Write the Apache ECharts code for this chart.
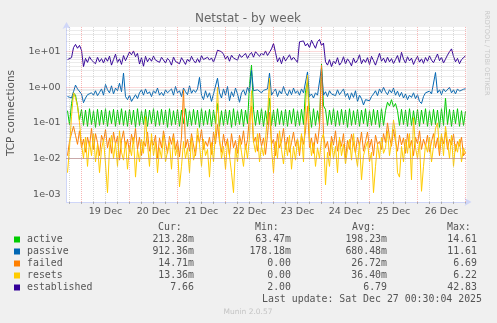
<!DOCTYPE html>
<html>
<head>
<meta charset="utf-8">
<script src="https://cdn.jsdelivr.net/npm/echarts@6/dist/echarts.min.js"></script>
<style>
html, body { margin: 0; padding: 0; background: #F0F0F0; }
#chart { width: 497px; height: 323px; }
</style>
</head>
<body>
<div id="chart"></div>
<script>
// Hourly samples; first sample is 18 Dec 17:00 (hours counted from 18 Dec 00:00)
const startHour = 17;

const active = [
  .22,.09,.35,.7,.6,.3,.12,.24,.085,.23,
  .08,.25,.09,.22,.075,.24,.085,.23,.09,.25,
  .08,.22,.095,.24,.08,.23,.09,.25,.085,.22,
  .08,.24,.09,.23,.075,.25,.085,.22,.09,.24,
  .08,.23,.095,.25,.08,.22,.085,.24,.09,.23,
  .075,.25,.085,.22,.09,.24,.08,.23,.095,.25,
  .08,.22,.085,.24,.09,.23,.075,.25,.085,.22,
  .09,.24,.08,.23,.095,.35,.08,.22,.085,.24,
  .09,.23,.075,.25,.085,.22,.09,.24,.08,.23,
  .095,1.2,4.2,.24,.085,.23,.09,.25,.08,.22,
  .09,.5,.085,.23,.08,.25,.09,.22,.085,.24,
  .08,.23,.095,.25,.08,.22,.085,.24,.09,.8,
  1.4,.23,.075,.25,.085,.22,.09,4.5,.3,.24,
  .085,.23,.09,.25,.08,.22,.085,.24,.09,.23,
  .075,.25,.085,.22,.09,.24,.08,.23,.095,.25,
  .08,.22,.085,.24,.09,.23,.075,.25,.085,.22,
  .38,.3,.45,.28,.35,.22,.085,.24,.09,.23,
  .08,.25,.085,.22,.09,.24,.08,.23,.095,.25,
  .08,.22,.085,.24,.09,.23,.075,.25,.085,.5,
  .09,.24,.08,.23,.095,.25,.08,.22,.085,.213
];

const passive = [
  .55,.6,.5,.75,1.15,.9,1,.65,.37,.5,
  .62,.55,.7,.6,.8,.58,.72,.9,.6,1.2,
  .85,.7,1.1,.65,.95,.8,1.3,.75,2.5,.55,
  .45,.6,.4,.5,.62,.48,.7,.85,.6,.9,
  .65,.75,.55,.8,.68,.95,.6,.72,.58,.85,
  .7,.62,.9,.6,1.05,.7,.8,.55,.95,.75,
  .62,1.1,.68,.85,.72,.9,1.9,.6,.45,.8,
  .52,.7,.4,.65,.58,1.8,.7,.5,.9,.6,
  1.05,.42,.75,.55,.95,.65,.38,.7,.85,.6,
  1,.72,3,.8,.72,.85,.75,.7,.82,.78,
  .9,2.5,.6,.75,.9,.55,.8,.65,1.05,.7,
  .58,.85,.62,.95,.68,.8,.6,.9,.7,.65,
  2.7,.55,.65,.5,.7,.6,.58,3.5,.6,.75,
  .55,.8,.65,.7,.58,.85,.62,.75,.9,.55,
  .68,.45,.7,.52,.8,.4,.6,.48,.32,.45,
  .5,.42,.55,.65,.8,.58,.9,.7,1,.75,
  .62,.85,.7,.95,.6,.78,.55,.72,.5,.65,
  .45,.6,.52,.7,.48,.62,.4,.35,.55,.7,
  .62,.78,.65,.72,2.6,.7,.85,.62,.9,.75,
  .8,1,.7,.85,.65,.9,.78,.82,.88,.912
];

const failed = [
  .012,.03,.05,.08,.045,.025,.06,.02,.035,.015,
  .04,.022,.07,.018,.05,.028,.012,.045,.03,.065,
  .02,.038,.014,.055,.025,.042,.009,.032,.06,.02,
  .035,.015,.048,.026,.07,.018,.04,.012,.03,.022,
  .055,.016,.034,.024,.045,.01,.038,.02,.06,.028,
  .014,.042,.025,.05,.018,.032,.011,.04,.85,.02,
  .035,.016,.05,.024,.012,.045,.028,.065,.018,.03,
  .022,.04,.013,.055,.026,.09,.03,.015,.048,.022,
  .036,.012,.05,.02,.032,.014,.045,.025,.06,.018,
  .034,.15,.3,.028,.04,.016,.052,.022,.038,.013,
  .045,.2,.025,.035,.012,.05,.02,.03,.07,.018,
  .04,.015,.028,.055,.022,.036,.012,.045,.025,.06,
  .3,.02,.038,.014,.05,.026,.08,4.2,.045,.02,
  .03,.012,.042,.024,.06,.016,.035,.022,.05,.01,
  .032,.018,.048,.026,.014,.04,.022,.055,.016,.03,
  .055,.02,.035,.012,.045,.025,.03,.018,.05,.028,
  .1,.04,.022,.065,.03,.016,.045,.024,.038,.014,
  .05,.02,.032,.012,.04,.026,.06,.018,.035,.022,
  .045,.015,.03,.05,.02,.038,.012,.042,.026,.055,
  .018,.035,.024,.048,.016,.03,.022,.04,.012,.0147
];

const resets = [
  .004,.02,.15,.7,.5,.3,.1,.025,.01,.04,
  .006,.03,.012,.05,.008,.025,.004,.018,.035,.007,
  .0011,.02,.045,.01,.028,.006,.06,.015,.009,.03,
  .005,.022,.012,.04,.003,.018,.008,.035,.014,.15,
  .025,.006,.05,.012,.03,.004,.02,.01,.045,.008,
  .016,.028,.005,.038,.012,.022,.0016,.006,.03,.01,
  .02,.004,.04,.009,.015,.07,.025,.006,.035,.012,
  .018,.003,.028,.008,.05,1.0,.04,.01,.022,.005,
  .03,.012,.004,.0011,.02,.008,.035,.015,.006,.025,
  .01,.04,.8,.03,.015,.05,.008,.022,.012,.035,
  .15,1.8,.02,.004,.03,.01,.06,.018,.007,.028,
  .012,.045,.005,.022,.009,.035,.015,.05,.008,.3,
  2.2,.04,.012,.028,.006,.02,.01,.035,.05,.0018,
  .015,.006,.03,.01,.022,.004,.04,.012,.025,.007,
  .018,.035,.009,.05,.014,.006,.028,.0025,.012,.02,
  .03,.008,.015,.0011,.006,.025,.01,.04,.014,.02,
  .06,.012,.03,.12,.05,.004,.003,.022,.008,.035,
  .014,.05,.0025,.14,.02,.01,.03,.0012,.006,.025,
  .015,.04,.008,.022,.07,.1,.018,.05,.012,.08,
  .03,.01,.045,.006,.025,.015,.035,.008,.02,.0134
];

const established = [
  6,5.5,6.8,13,16,12.5,15,11,3.8,6.5,
  5,7.2,5.8,6.2,4.6,7,5.2,6.4,4.8,6.8,
  5.4,7.5,4.2,6,8.5,5,6.3,4.4,7.8,5.6,
  6.2,9.8,8.2,10.5,7.2,9,4.5,6.8,3.9,7.4,
  5.2,6.6,5.4,7.5,5.8,6.4,5,7,6.2,4.8,
  6.5,5.6,4.2,7.1,5.3,6,4.6,6.8,5.5,4.4,
  6.2,5.2,7.4,5.7,4.8,6.4,5,7.8,6,5.3,
  7,5.8,6.7,5.1,7.2,11,12,10,8.5,6.2,
  7.5,5.4,8,6.6,7.2,5.8,8.4,6.9,7.7,9,
  6.5,8.2,9.5,7,10,8.6,7.4,9.2,8,10.5,
  7.8,8.8,12,17,9.5,5.2,6.8,4.6,7.4,5.5,
  6.2,8.2,5.8,7,6.4,5,19,18,20,14.5,
  17,13,21,16,12.5,19,22,15,17.5,5.2,
  4.2,6,3.8,5.5,4.6,6.8,4.2,5,7.2,4.5,
  6.3,5.2,4,6.6,4.8,5.8,8.2,4.6,6.1,5,
  6.8,4.4,7.4,5.6,4.2,6.2,9,5.4,6.6,4.9,
  7,5.2,6.4,4.6,6,7.8,5,9.6,6.2,4.8,
  7.2,5.5,6.6,4.4,5.9,7.4,5.1,6.3,4.7,6.9,
  5.4,7.6,5.8,4.9,6.5,8.6,5.6,7,4.8,6.2,
  8,10,12,7.4,5.2,6.5,4.6,6,6.8,7.66
];

const seriesNames = ['active', 'passive', 'failed', 'resets', 'established'];
const seriesColors = ['#00CC00', '#0066B3', '#FF8000', '#FFCC00', '#330099'];
const curValues = ['213.28m', '912.36m', '14.71m', '13.36m', '7.66'];
const minValues = ['63.47m', '178.18m', '0.00', '0.00', '2.00'];
const avgValues = ['198.23m', '680.48m', '26.72m', '36.40m', '6.79'];
const maxValues = ['14.61', '11.61', '6.69', '6.22', '42.83'];
const dayLabels = ['19 Dec', '20 Dec', '21 Dec', '22 Dec', '23 Dec', '24 Dec', '25 Dec', '26 Dec'];
const lastUpdate = 'Last update: Sat Dec 27 00:30:04 2025';

// Axis ranges: x in hours from 18 Dec 00:00, y logarithmic
const xMin = 16.5, xMax = 216.5;
const yMin = 6e-4, yMax = 49.4;

const allSeries = [active, passive, failed, resets, established];

// Grid line positions (every 6 h, day boundaries in red; 2..9 per decade, decades in red)
const vMinor = [], vMajor = [];
for (let h = 18; h <= 216; h += 6) (h % 24 === 0 ? vMajor : vMinor).push(h);
const hMinor = [], hMajor = [];
for (let k = -4; k <= 1; k++) {
  for (let m = 1; m <= 9; m++) {
    const v = m * Math.pow(10, k);
    if (v > yMin && v < yMax) (m === 1 ? hMajor : hMinor).push(v);
  }
}
const minorStyle = { color: 'rgba(160,160,160,0.42)', width: 1, type: [1, 1] };
const majorStyle = { color: 'rgba(240,110,110,0.5)', width: 1, type: [1, 1] };
const gridLines = [].concat(
  vMinor.map(h => ({ xAxis: h, lineStyle: minorStyle })),
  hMinor.map(v => ({ yAxis: v, lineStyle: minorStyle })),
  vMajor.map(h => ({ xAxis: h, lineStyle: majorStyle })),
  hMajor.map(v => ({ yAxis: v, lineStyle: majorStyle }))
);

const noons = dayLabels.map((_, i) => 36 + 24 * i);

function expLabel(v) {
  const e = Math.round(Math.log10(v));
  if (Math.abs(Math.log10(v) - e) > 1e-6) return '';
  const s = e < 0 ? '-' : '+';
  const a = Math.abs(e);
  return '1e' + s + (a < 10 ? '0' + a : '' + a);
}

const chart = echarts.init(document.getElementById('chart'), null, { renderer: 'canvas' });

const lineSeries = allSeries.map((arr, i) => ({
  name: seriesNames[i],
  type: 'line',
  data: arr.map((v, j) => [startHour + j, v]),
  showSymbol: false,
  symbol: 'none',
  smooth: false,
  lineStyle: { color: seriesColors[i], width: 1 },
  itemStyle: { color: seriesColors[i] },
  z: 3,
  silent: true
}));

const axisFont = { fontFamily: 'DejaVu Sans', fontSize: 9.5, color: '#555' };
const monoFont = 'DejaVu Sans Mono';
const legendFontSize = 9.9;
const textColor = '#555';

// Legend table
const graphics = [];
const rowY = [239.5, 251.5, 263.5, 275.5, 287.5];
const headY = 227.7;
const colRight = [194, 291, 387, 477];
const headLeft = [158, 255, 352, 447];
const headNames = ['Cur:', 'Min:', 'Avg:', 'Max:'];
headNames.forEach((t, i) => graphics.push({
  type: 'text', x: headLeft[i], y: headY,
  style: { text: t, font: legendFontSize + 'px "' + monoFont + '"', fill: textColor, textVerticalAlign: 'middle', textAlign: 'left' }
}));
seriesNames.forEach((name, r) => {
  graphics.push({ type: 'rect', shape: { x: 14, y: rowY[r] - 3, width: 6, height: 6 }, style: { fill: seriesColors[r] } });
  graphics.push({ type: 'text', x: 27, y: rowY[r],
    style: { text: name, font: legendFontSize + 'px "' + monoFont + '"', fill: textColor, textVerticalAlign: 'middle', textAlign: 'left' } });
  [curValues, minValues, avgValues, maxValues].forEach((col, c) => {
    graphics.push({ type: 'text', x: colRight[c], y: rowY[r],
      style: { text: col[r], font: legendFontSize + 'px "' + monoFont + '"', fill: textColor, textVerticalAlign: 'middle', textAlign: 'right' } });
  });
});
graphics.push({ type: 'text', x: 482, y: 299.7,
  style: { text: lastUpdate, font: legendFontSize + 'px "' + monoFont + '"', fill: textColor, textVerticalAlign: 'middle', textAlign: 'right' } });
graphics.push({ type: 'text', x: 248, y: 312.3,
  style: { text: 'Munin 2.0.57', font: '7.5px "DejaVu Sans"', fill: '#c4c4c4', textVerticalAlign: 'middle', textAlign: 'center' } });
graphics.push({ type: 'text', x: 11, y: 113, rotation: Math.PI / 2,
  style: { text: 'TCP connections', font: '10.5px "DejaVu Sans"', fill: textColor, textVerticalAlign: 'middle', textAlign: 'center' } });
graphics.push({ type: 'text', x: 487, y: 53, rotation: -Math.PI / 2,
  style: { text: 'RRDTOOL / TOBI OETIKER', font: '6.6px "DejaVu Sans"', fill: '#c8c8c8', textVerticalAlign: 'middle', textAlign: 'center' } });
graphics.push({ type: 'text', x: 248, y: 19,
  style: { text: 'Netstat - by week', font: '12px "DejaVu Sans"', fill: '#666', textVerticalAlign: 'middle', textAlign: 'center' } });

const option = {
  backgroundColor: '#F0F0F0',
  animation: false,
  grid: {
    left: 66.5, top: 27, width: 400, height: 175,
    show: true, backgroundColor: '#FFFFFF', borderWidth: 0,
    outerBoundsMode: 'none', containLabel: false
  },
  xAxis: {
    type: 'value', min: xMin, max: xMax,
    axisLine: { show: true, onZero: false, lineStyle: { color: '#CFD6F8', width: 1 },
      symbol: ['none', 'arrow'], symbolSize: [6, 7], symbolOffset: [0, 5] },
    axisTick: { show: true, customValues: vMinor.concat(vMajor), length: 2, inside: false,
      lineStyle: { color: 'rgba(150,150,150,0.7)' } },
    axisLabel: { show: true, customValues: noons, margin: 5,
      formatter: v => dayLabels[Math.round((v - 36) / 24)] || '', ...axisFont },
    splitLine: { show: false }
  },
  yAxis: {
    type: 'log', logBase: 10, min: yMin, max: yMax,
    axisLine: { show: true, lineStyle: { color: '#CFD6F8', width: 1 },
      symbol: ['none', 'arrow'], symbolSize: [6, 7], symbolOffset: [0, 5] },
    axisTick: { show: false },
    axisLabel: { show: true, margin: 6, formatter: expLabel, showMinLabel: false, showMaxLabel: false, ...axisFont },
    splitLine: { show: false }
  },
  series: [{
    name: 'grid', type: 'line', data: [], z: 1, silent: true,
    markLine: { silent: true, symbol: ['none', 'none'], animation: false,
      label: { show: false }, emphasis: { disabled: true }, data: gridLines }
  }].concat(lineSeries),
  graphic: graphics
};

chart.setOption(option);
</script>
</body>
</html>
